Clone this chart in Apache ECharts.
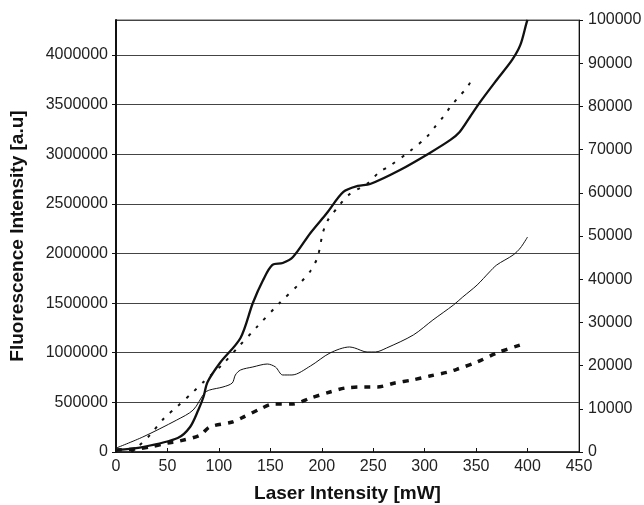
<!DOCTYPE html>
<html>
<head>
<meta charset="utf-8">
<script src="https://cdn.jsdelivr.net/npm/echarts@6/dist/echarts.min.js"></script>
<style>
  html, body { margin: 0; padding: 0; background: #fff; }
  #chart { width: 644px; height: 505px; }
</style>
</head>
<body>
<div id="chart"></div>
<script>
// laser power (mW) vs fluorescence
const thickSolid = [
  [0, 20000], [26, 50000], [60, 141000], [72, 252000], [80, 423000], [85, 554000],
  [89, 705000], [101, 897000], [121, 1149000], [133, 1501000], [143, 1733000],
  [152, 1884000], [162, 1904000], [172, 1965000], [189, 2207000], [205, 2408000],
  [221, 2620000], [235, 2680000], [247, 2700000], [276, 2841000], [305, 3013000],
  [325, 3144000], [334, 3224000], [344, 3375000], [354, 3527000], [370, 3748000],
  [385, 3950000], [393, 4101000], [399, 4323000], [400, 4353000]
];
const dotted = [
  [15, 0], [21, 50000], [33, 171000], [47, 343000], [59, 453000], [75, 605000],
  [85, 705000], [103, 877000], [118, 1048000], [137, 1260000], [159, 1501000],
  [179, 1703000], [189, 1824000], [196, 1965000], [201, 2207000], [206, 2338000],
  [215, 2458000], [226, 2589000], [245, 2710000], [256, 2821000], [266, 2882000],
  [286, 3033000], [302, 3174000], [310, 3275000], [318, 3375000], [325, 3476000],
  [333, 3577000], [341, 3668000], [347, 3778000]
];
// these two are on the right axis
const thinSolid = [
  [0, 900], [26, 3470], [59, 7400], [75, 9720], [86, 13660], [91, 14350],
  [104, 15050], [113, 15970], [116, 17830], [121, 18980], [133, 19680],
  [147, 20370], [155, 19680], [162, 17830], [171, 17830], [189, 19910],
  [208, 22920], [227, 24310], [232, 24080], [244, 23150], [252, 23150],
  [263, 24080], [289, 27090], [308, 30560], [328, 34030], [337, 35880],
  [351, 38660], [363, 41670], [370, 43290], [386, 45610], [393, 47230], [400, 49770]
];
const thickDashed = [
  [0, 460], [20, 700], [33, 1160], [50, 2080], [62, 2550], [82, 3940], [91, 5790],
  [113, 6950], [122, 7870], [140, 9950], [153, 11110], [172, 11110], [189, 12500],
  [208, 13890], [223, 14820], [242, 15050], [254, 15050], [271, 15970],
  [288, 16670], [305, 17590], [323, 18520], [332, 19210], [351, 20840],
  [370, 22920], [393, 24770]
];

const font = '"Liberation Sans", Arial, sans-serif';
const myChart = echarts.init(document.getElementById('chart'));

// plain numbers, no thousands separators
const plain = v => String(v);

var option = {
  animation: false,
  textStyle: { fontFamily: font },
  grid: {
    left: 116, right: 65, top: 20, bottom: 53,
    outerBoundsMode: 'none', // keep the plot box where it is
    show: true,
    borderColor: '#555',
    borderWidth: 1
  },
  xAxis: {
    type: 'value',
    min: 0, max: 450, interval: 50,
    name: 'Laser Intensity [mW]',
    nameLocation: 'middle',
    nameGap: 32,
    nameTextStyle: { fontSize: 19, fontWeight: 'bold', color: '#111', fontFamily: font },
    axisLine: { lineStyle: { color: '#111', width: 1.5 } },
    axisTick: { inside: true, length: 4, lineStyle: { color: '#111' } },
    axisLabel: { fontSize: 16, color: '#222', margin: 7, formatter: plain },
    splitLine: { show: false }
  },
  yAxis: [
    {
      type: 'value',
      min: 0, max: 4352000, interval: 500000,
      name: 'Fluorescence Intensity [a.u]',
      nameLocation: 'middle',
      nameGap: 89,
      nameRotate: 90,
      nameTextStyle: { fontSize: 19, fontWeight: 'bold', color: '#111', fontFamily: font },
      axisLine: { show: true, lineStyle: { color: '#111', width: 2 } },
      axisTick: { show: true, length: 4, lineStyle: { color: '#111' } },
      axisLabel: { fontSize: 16, color: '#222', margin: 8, showMaxLabel: false, formatter: plain },
      splitLine: { show: true, lineStyle: { color: '#444', width: 1 } }
    },
    {
      type: 'value',
      min: 0, max: 100000, interval: 10000,
      position: 'right',
      axisLine: { show: true, lineStyle: { color: '#111', width: 1 } },
      axisTick: { show: true, length: 4, lineStyle: { color: '#111' } },
      axisLabel: { fontSize: 16, color: '#222', margin: 9, formatter: plain },
      splitLine: { show: false }
    }
  ],
  series: [
    {
      type: 'line', data: thickSolid, yAxisIndex: 0, smooth: 0.3,
      showSymbol: false, lineStyle: { color: '#111', width: 2.3 }
    },
    {
      type: 'line', data: dotted, yAxisIndex: 0, smooth: 0.3,
      showSymbol: false, lineStyle: { color: '#111', width: 2, type: [3, 8] }
    },
    {
      type: 'line', data: thinSolid, yAxisIndex: 1, smooth: 0.3,
      showSymbol: false, lineStyle: { color: '#111', width: 1 }
    },
    {
      type: 'line', data: thickDashed, yAxisIndex: 1, smooth: 0.3,
      showSymbol: false, lineStyle: { color: '#111', width: 3.5, type: [6, 7] }
    }
  ]
};

myChart.setOption(option, true);
</script>
</body>
</html>
